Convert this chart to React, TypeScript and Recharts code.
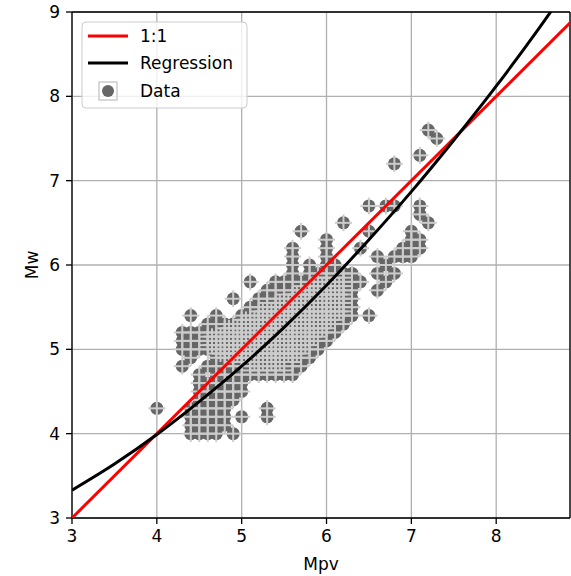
import { CartesianGrid, ComposedChart, Line, ReferenceLine, Scatter, XAxis, YAxis } from 'recharts'

// Mw levels and the Mpv values (in tenths) found at each level
const mwLevels = [
  4.0, 4.1, 4.2, 4.3, 4.4, 4.5, 4.6, 4.7, 4.8, 4.9, 5.0, 5.1, 5.2, 5.3, 5.4, 5.5, 5.6, 5.7, 5.8, 5.9,
  6.0, 6.1, 6.2, 6.3, 6.4, 6.5, 6.6, 6.7, 7.2, 7.3, 7.5, 7.6,
]
const mpvTenths = [
  [44, 45, 46, 47, 49],
  [44, 45, 46, 47, 48],
  [44, 45, 46, 47, 48, 50, 53],
  [40, 44, 45, 46, 47, 48, 53],
  [45, 46, 47, 48, 49],
  [45, 46, 47, 48, 49, 50],
  [45, 46, 47, 48, 49, 50],
  [45, 47, 48, 49, 50, 51, 52, 53, 54, 55, 56],
  [43, 46, 47, 48, 49, 50, 51, 52, 53, 54, 55, 56, 57],
  [44, 47, 48, 49, 50, 51, 52, 53, 54, 55, 56, 57, 58],
  [43, 44, 45, 46, 47, 48, 49, 50, 51, 52, 53, 54, 55, 56, 57, 58, 59],
  [43, 44, 45, 46, 47, 48, 49, 50, 51, 52, 53, 54, 55, 56, 57, 58, 59, 60],
  [43, 44, 45, 46, 47, 48, 49, 50, 51, 52, 53, 54, 55, 56, 57, 58, 59, 60, 61],
  [46, 47, 48, 49, 50, 51, 52, 53, 54, 55, 56, 57, 58, 59, 60, 61, 62],
  [44, 47, 50, 51, 52, 53, 54, 55, 56, 57, 58, 59, 60, 61, 62, 63, 65],
  [51, 52, 53, 54, 55, 56, 57, 58, 59, 60, 61, 62, 63],
  [49, 52, 53, 54, 55, 56, 57, 58, 59, 60, 61, 62, 63],
  [53, 54, 55, 56, 57, 58, 59, 60, 61, 62, 63, 66],
  [51, 54, 55, 56, 57, 58, 59, 60, 61, 62, 63, 64, 67],
  [56, 58, 59, 60, 61, 62, 63, 66, 68],
  [56, 58, 60, 61, 67],
  [56, 60, 66, 68, 69, 70],
  [56, 60, 64, 69, 70, 71],
  [60, 70, 71],
  [57, 65, 70],
  [62, 72],
  [71],
  [65, 67, 68, 71],
  [68],
  [71],
  [73],
  [72],
]

// half-step Mw values, only present in the crowded core
const mwHalfLevels = [4.75, 4.85, 4.95, 5.05, 5.15, 5.25, 5.35, 5.45, 5.55, 5.65, 5.75, 5.85]
const mpvHalfTenths = [
  [51, 52, 53, 54, 55],
  [49, 50, 51, 52, 53, 54, 55, 56],
  [47, 48, 49, 50, 51, 52, 53, 54, 55, 56, 57],
  [46, 47, 48, 49, 50, 51, 52, 53, 54, 55, 56, 57, 58],
  [46, 47, 48, 49, 50, 51, 52, 53, 54, 55, 56, 57, 58, 59],
  [48, 49, 50, 51, 52, 53, 54, 55, 56, 57, 58, 59, 60],
  [50, 51, 52, 53, 54, 55, 56, 57, 58, 59, 60, 61],
  [52, 53, 54, 55, 56, 57, 58, 59, 60, 61, 62],
  [53, 54, 55, 56, 57, 58, 59, 60, 61, 62],
  [55, 56, 57, 58, 59, 60, 61, 62],
  [57, 58, 59, 60, 61, 62],
  [59, 60, 61, 62],
]

// finer Mpv values (in hundredths) inside the densest part of the core
const mwCoreLevels = [4.85, 4.95, 5.05, 5.15, 5.25, 5.35, 5.45, 5.55, 5.65, 5.75]
const mpvCoreHundredths = [
  [515, 525, 535, 545],
  [475, 485, 495, 505, 515, 525, 535, 545, 555, 565],
  [465, 475, 485, 495, 505, 515, 525, 535, 545, 555, 565, 575],
  [465, 475, 485, 495, 505, 515, 525, 535, 545, 555, 565, 575, 585],
  [485, 495, 505, 515, 525, 535, 545, 555, 565, 575, 585, 595],
  [505, 515, 525, 535, 545, 555, 565, 575, 585, 595, 605],
  [525, 535, 545, 555, 565, 575, 585, 595, 605, 615],
  [545, 555, 565, 575, 585, 595, 605, 615],
  [565, 575, 585, 595, 605, 615],
  [585, 595, 605, 615],
]

// fitted regression curve (Mpv -> Mw)
const regMpv = [3.0, 3.5, 4.0, 4.5, 5.0, 5.5, 6.0, 6.5, 7.0, 7.5, 8.0, 8.5, 9.0]
const regMw = [3.33, 3.64, 3.99, 4.38, 4.8, 5.26, 5.76, 6.3, 6.87, 7.48, 8.12, 8.8, 9.52]

const oneToOne = [3, 9]

const xTicks = [3, 4, 5, 6, 7, 8]
const yTicks = [3, 4, 5, 6, 7, 8, 9]

const points = [
  ...mwLevels.flatMap((mw, i) => mpvTenths[i].map((t) => ({ x: t / 10, y: mw }))),
  ...mwHalfLevels.flatMap((mw, i) => mpvHalfTenths[i].map((t) => ({ x: t / 10, y: mw }))),
  ...mwCoreLevels.flatMap((mw, i) => mpvCoreHundredths[i].map((h) => ({ x: h / 100, y: mw }))),
]
const regression = regMpv.map((x, i) => ({ x, y: regMw[i] }))
const identity = oneToOne.map((v) => ({ x: v, y: v }))

const W = 571
const H = 576
const MARGIN = { top: 12, right: 1, left: 0, bottom: 0 }
const FONT = '"DejaVu Sans", sans-serif'
const DOT = '#666666'
const BAR = '#cccccc'

const DotShape = (p: any) => <circle cx={p.cx} cy={p.cy} r={6.5} fill={DOT} />

const CrossShape = (p: any) => (
  <g stroke={BAR} strokeWidth={2}>
    <line x1={p.cx - 8.5} y1={p.cy} x2={p.cx + 8.5} y2={p.cy} />
    <line x1={p.cx} y1={p.cy - 8.4} x2={p.cx} y2={p.cy + 8.4} />
  </g>
)

function LegendBox() {
  return (
    <svg width={170} height={90} style={{ position: 'absolute', left: 81, top: 21 }}>
      <rect x={1} y={1} width={165} height={86} rx={4} fill='rgba(255,255,255,0.8)' stroke='#cccccc' />
      <line x1={7} y1={15} x2={47} y2={15} stroke='red' strokeWidth={3} />
      <text x={59} y={21} fontSize={17} fontFamily={FONT}>1:1</text>
      <line x1={7} y1={42} x2={47} y2={42} stroke='black' strokeWidth={3} />
      <text x={59} y={48} fontSize={17} fontFamily={FONT}>Regression</text>
      <rect x={18} y={61} width={18} height={18} fill='none' stroke={BAR} strokeWidth={1.5} />
      <circle cx={27} cy={70} r={6} fill={DOT} />
      <text x={59} y={76} fontSize={17} fontFamily={FONT}>Data</text>
    </svg>
  )
}

// shared axis setup; `bare` keeps the space but draws nothing
function Axes(bare: boolean) {
  const tick = bare ? false : { fontSize: 17, fill: '#000', fontFamily: FONT }
  return [
    <XAxis
      key='x'
      type='number'
      dataKey='x'
      domain={[3, 8.87]}
      ticks={xTicks}
      allowDataOverflow
      height={58}
      tick={tick}
      tickLine={!bare}
      axisLine={!bare}
      tickSize={6}
      tickMargin={6}
      stroke='#000'
      strokeWidth={1.3}
    />,
    <YAxis
      key='y'
      type='number'
      dataKey='y'
      domain={[3, 9]}
      ticks={yTicks}
      allowDataOverflow
      width={72}
      tick={tick}
      tickLine={!bare}
      axisLine={!bare}
      tickSize={6}
      tickMargin={6}
      stroke='#000'
      strokeWidth={1.3}
    />,
  ]
}

export default function App() {
  return (
    <div style={{ position: 'relative', width: W, height: H, fontFamily: FONT }}>
      <style>{'body{margin:0}'}</style>
      <ComposedChart width={W} height={H} margin={MARGIN}>
        <CartesianGrid stroke='#b0b0b0' strokeWidth={1.3} />
        {Axes(false)}
        <Scatter data={points} dataKey='y' shape={DotShape} isAnimationActive={false} />
        <Scatter data={points} dataKey='y' shape={CrossShape} isAnimationActive={false} />
        <ReferenceLine y={9} stroke='#000' strokeWidth={1.3} />
        <ReferenceLine x={8.87} stroke='#000' strokeWidth={1.3} />
      </ComposedChart>
      {/* lines sit in their own layer so they stay above the markers */}
      <div style={{ position: 'absolute', left: 0, top: 0 }}>
        <ComposedChart width={W} height={H} margin={MARGIN}>
          {Axes(true)}
          <Line data={identity} dataKey='y' stroke='red' strokeWidth={3} dot={false} isAnimationActive={false} />
          <Line
            data={regression}
            dataKey='y'
            type='monotone'
            stroke='black'
            strokeWidth={3}
            dot={false}
            isAnimationActive={false}
          />
        </ComposedChart>
      </div>
      <LegendBox />
      <div style={{ position: 'absolute', left: 321, top: 554, transform: 'translateX(-50%)', fontSize: 17 }}>Mpv</div>
      <div
        style={{
          position: 'absolute',
          left: 32,
          top: 265,
          transform: 'translate(-50%, -50%) rotate(-90deg)',
          fontSize: 17,
        }}
      >
        Mw
      </div>
    </div>
  )
}
